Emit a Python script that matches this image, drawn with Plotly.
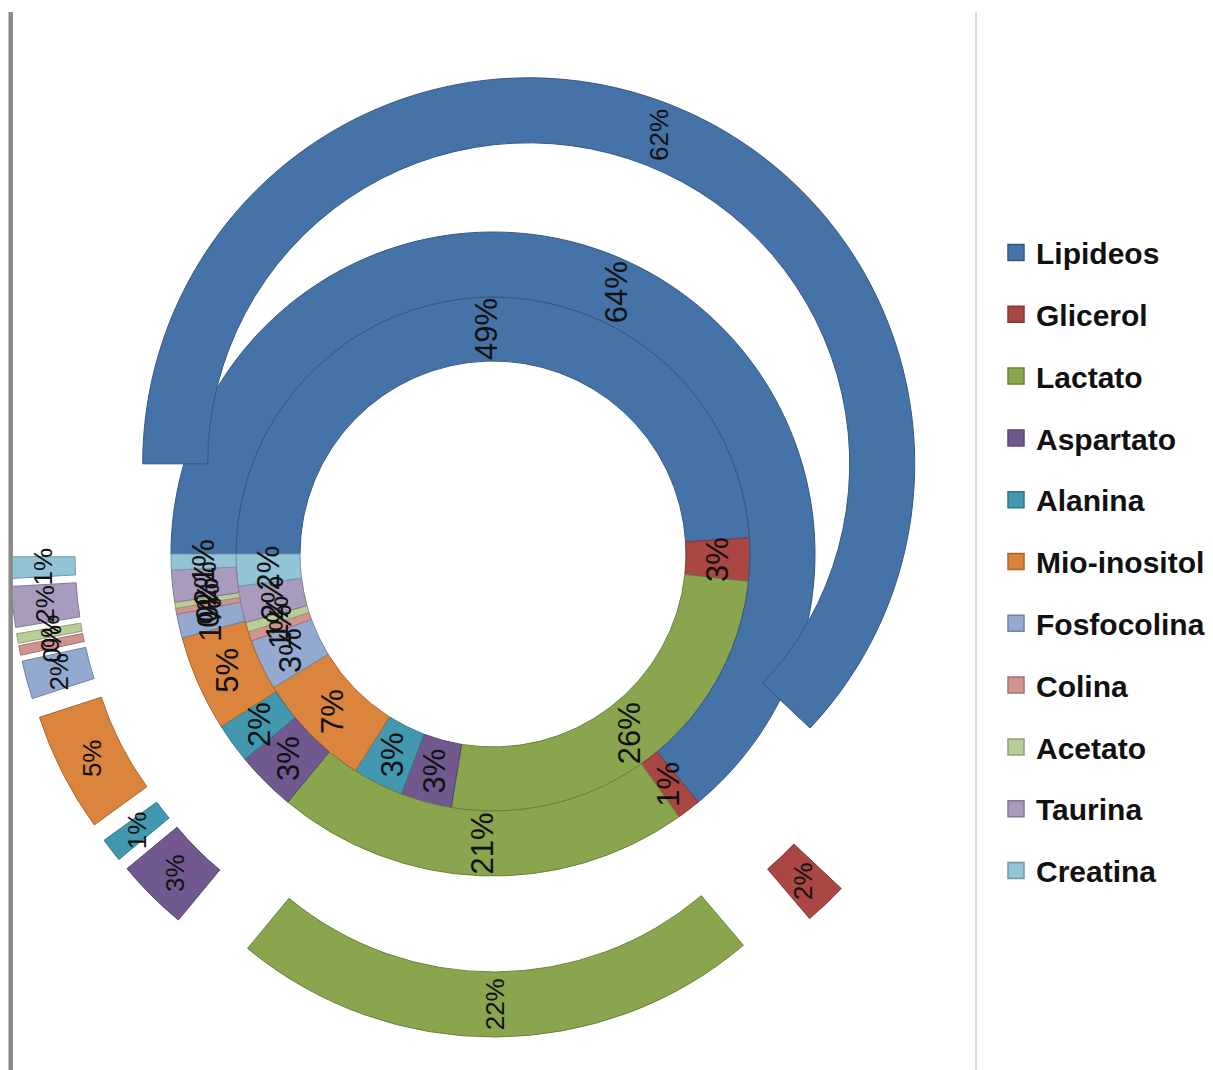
import math
import plotly.graph_objects as go

W, H = 1213, 1070

# Metabolite composition (%) in three nested rings
componentes = ["Lipideos", "Glicerol", "Lactato", "Aspartato", "Alanina", "Mio-inositol",
               "Fosfocolina", "Colina", "Acetato", "Taurina", "Creatina"]
anel_interno = [49, 2.7, 25.9, 3.2, 3.2, 7.3, 3.2, 0.6, 0.6, 2.3, 2]
anel_medio = [64, 1.2, 20.8, 3, 2, 4.8, 1.2, 0.3, 0.3, 1.6, 0.8]
anel_externo = [62, 1.8, 22.2, 3, 1, 5, 1.6, 0.4, 0.4, 1.7, 0.9]

cores = ["#4572A7", "#AA4643", "#89A54E", "#71588F", "#4198AF", "#DB843D",
         "#93A9CF", "#D19392", "#B9CD96", "#A99BBD", "#93C4D6"]


def escurecer(hexcor, f=0.78):
    r, g, b = (int(hexcor[i:i + 2], 16) for i in (1, 3, 5))
    return "rgb({},{},{})".format(int(r * f), int(g * f), int(b * f))


bordas = [escurecer(c) for c in cores]

# ring geometry in pixels: center, inner/outer radius, explode offset
CX, CY = 493, 554
aneis = [
    dict(valores=anel_interno, r_in=193, r_out=257, expl=0, fonte=31),
    dict(valores=anel_medio, r_in=257, r_out=322, expl=0, fonte=31),
    dict(valores=anel_externo, r_in=321, r_out=386, expl=97, fonte=26),
]
ROTACAO = 270

fig = go.Figure()
anotacoes = []

for anel in aneis:
    caixa = anel["r_out"] + anel["expl"]
    puxar = anel["expl"] / anel["r_out"]
    vals = anel["valores"]
    fig.add_trace(go.Pie(
        labels=componentes,
        values=vals,
        sort=False,
        direction="clockwise",
        rotation=ROTACAO,
        hole=anel["r_in"] / anel["r_out"],
        pull=[puxar] * len(vals),
        marker=dict(colors=cores, line=dict(color=bordas, width=1)),
        textinfo="none",
        hoverinfo="label+percent",
        showlegend=False,
        domain=dict(x=[(CX - caixa) / W, (CX + caixa) / W],
                    y=[1 - (CY + caixa) / H, 1 - (CY - caixa) / H]),
    ))
    total = sum(vals)
    acum = 0.0
    r_meio = (anel["r_in"] + anel["r_out"]) / 2 + anel["expl"]
    for v in vals:
        ang = math.radians(ROTACAO + 360 * (acum + v / 2) / total)
        acum += v
        px = CX + r_meio * math.sin(ang)
        py = CY - r_meio * math.cos(ang)
        anotacoes.append(dict(
            x=px / W, y=1 - py / H, xref="paper", yref="paper",
            text="{:.0f}%".format(100 * v / total),
            showarrow=False, textangle=-90,
            xanchor="center", yanchor="middle",
            font=dict(family="Liberation Sans, Arial, sans-serif",
                      size=anel["fonte"], color="#111111"),
        ))

# legend entries
for nome, cor, borda in zip(componentes, cores, bordas):
    fig.add_trace(go.Scatter(
        x=[None], y=[None], mode="markers", name=nome, legendgroup=nome,
        marker=dict(symbol="square", size=16, color=cor, line=dict(color=borda, width=1.5)),
        showlegend=True, hoverinfo="skip",
    ))

fig.update_layout(
    width=W, height=H,
    margin=dict(l=0, r=0, t=0, b=0, pad=0),
    paper_bgcolor="white", plot_bgcolor="white",
    xaxis=dict(visible=False), yaxis=dict(visible=False),
    annotations=anotacoes,
    legend=dict(
        x=996 / W, xanchor="left", y=1 - 226.5 / H, yanchor="top",
        font=dict(family="Liberation Sans, Arial, sans-serif", size=30,
                  color="#111111", weight="bold"),
        tracegroupgap=19.8, bgcolor="rgba(0,0,0,0)",
    ),
    shapes=[
        dict(type="line", xref="paper", yref="paper", x0=10.7 / W, x1=10.7 / W,
             y0=0, y1=1 - 12 / H, line=dict(color="#8a8a8a", width=4.5)),
        dict(type="line", xref="paper", yref="paper", x0=976 / W, x1=976 / W,
             y0=0, y1=1 - 12 / H, line=dict(color="#b4b4b4", width=1)),
    ],
)

fig.write_html("out.html")
